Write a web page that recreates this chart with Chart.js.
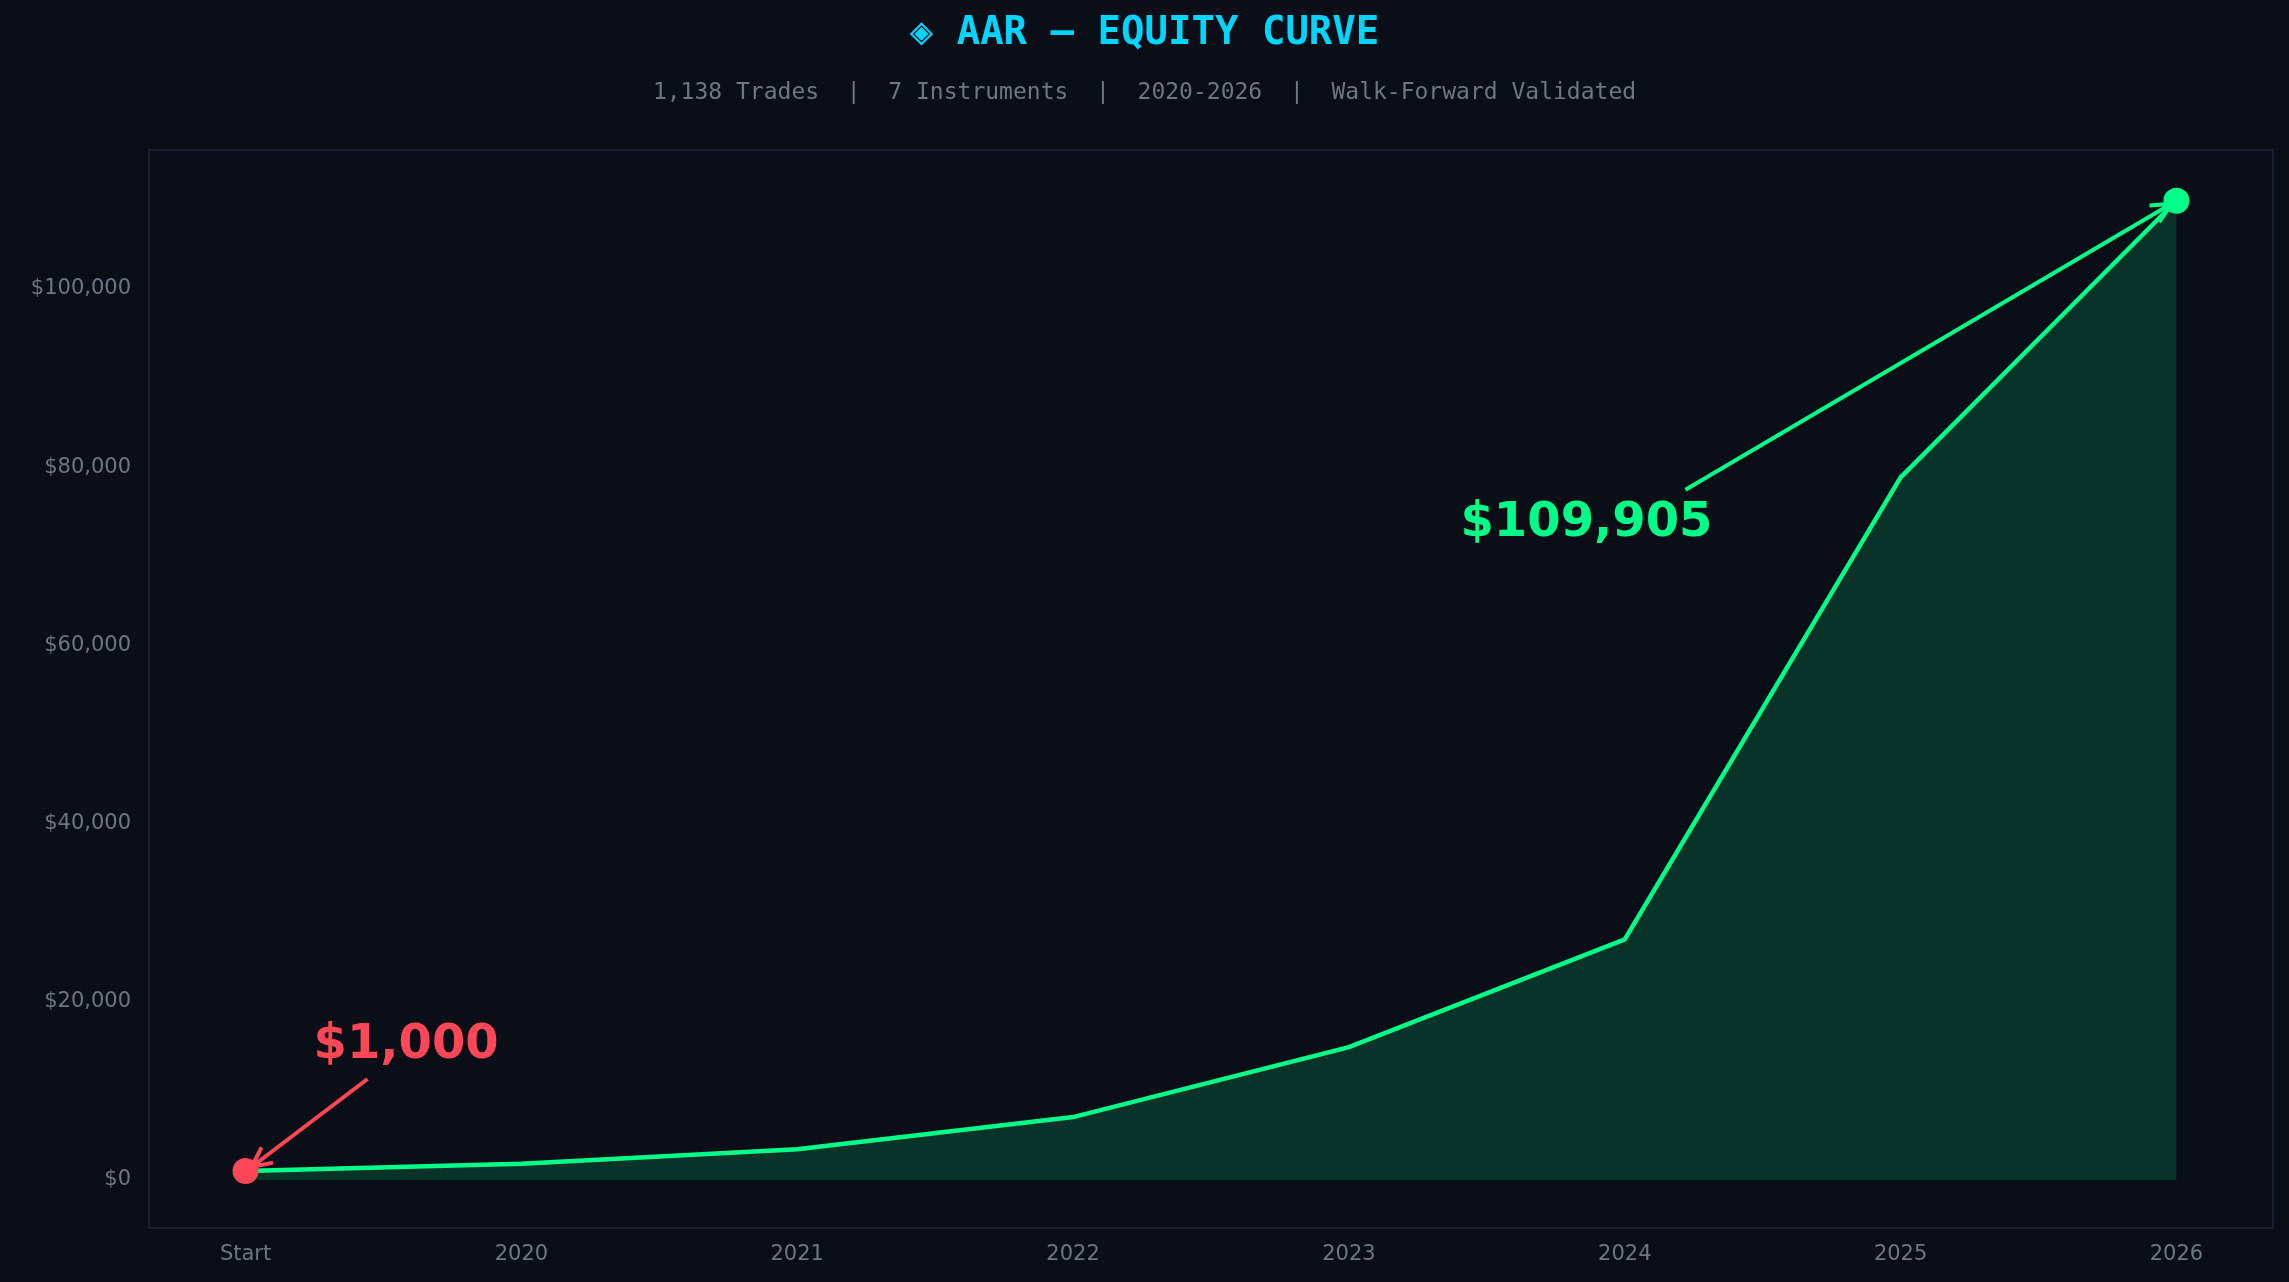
<!DOCTYPE html>
<html>
<head>
<meta charset="utf-8">
<script src="https://cdn.jsdelivr.net/npm/chart.js@4"></script>
<style>
  html, body { margin: 0; padding: 0; background: #0a0e17; }
  #wrap { width: 2289px; height: 1282px; }
</style>
</head>
<body>
<div id="wrap"><canvas id="equityChart"></canvas></div>
<script>
document.addEventListener('DOMContentLoaded', () => {
    "use strict";

    // Chart data
    var periodLabels = ['Start', '2020', '2021', '2022', '2023', '2024', '2025', '2026'];
    var equityValues = [1000, 1800, 3450, 7050, 14900, 27000, 78850, 109905];
    var yTickValues = [0, 20000, 40000, 60000, 80000, 100000];
    var titleText = '\u25C8 AAR \u2014 EQUITY CURVE';
    var subtitleText = '1,138 Trades  |  7 Instruments  |  2020-2026  |  Walk-Forward Validated';
    var startLabel = '$1,000';
    var endLabel = '$109,905';

    var points = equityValues.map(function(v, i) { return { x: i, y: v }; });
    var last = points.length - 1;

    function arrow(ctx, x1, y1, x2, y2, color) {
        ctx.save();
        ctx.strokeStyle = color;
        ctx.lineWidth = 4;
        ctx.beginPath();
        ctx.moveTo(x1, y1);
        ctx.lineTo(x2, y2);
        var a = Math.atan2(y2 - y1, x2 - x1), h = 22;
        ctx.moveTo(x2 - h * Math.cos(a - 0.45), y2 - h * Math.sin(a - 0.45));
        ctx.lineTo(x2, y2);
        ctx.lineTo(x2 - h * Math.cos(a + 0.45), y2 - h * Math.sin(a + 0.45));
        ctx.stroke();
        ctx.restore();
    }

    var decor = {
        id: 'decor',
        beforeDraw: function(chart) {
            var ctx = chart.ctx, a = chart.chartArea;
            ctx.save();
            ctx.fillStyle = '#0a0e17';
            ctx.fillRect(0, 0, chart.width, chart.height);
            ctx.strokeStyle = '#1a2030';
            ctx.lineWidth = 2;
            ctx.strokeRect(a.left, a.top, a.right - a.left, a.bottom - a.top);
            ctx.textAlign = 'center';
            ctx.textBaseline = 'middle';
            ctx.fillStyle = '#00d4ff';
            ctx.font = 'bold 39px "DejaVu Sans Mono"';
            ctx.fillText(titleText, chart.width / 2, 34);
            ctx.fillStyle = '#6e7681';
            ctx.font = '23px "DejaVu Sans Mono"';
            ctx.fillText(subtitleText, chart.width / 2, 93);
            ctx.restore();
        },
        afterDraw: function(chart) {
            var ctx = chart.ctx, xs = chart.scales.x, ys = chart.scales.y;
            var sx = xs.getPixelForValue(0), sy = ys.getPixelForValue(equityValues[0]);
            var ex = xs.getPixelForValue(last), ey = ys.getPixelForValue(equityValues[last]);
            ctx.save();
            ctx.font = 'bold 48px "DejaVu Sans"';
            ctx.textBaseline = 'middle';
            ctx.textAlign = 'left';
            ctx.fillStyle = '#ff4757';
            ctx.fillText(startLabel, sx + 68, sy - 125);
            arrow(ctx, sx + 122, sy - 92, sx + 6, sy - 4, '#ff4757');
            ctx.fillStyle = '#00ff88';
            ctx.fillText(endLabel, ex - 716, ey + 323);
            arrow(ctx, ex - 491, ey + 289, ex - 5, ey + 3, '#00ff88');
            ctx.restore();
        }
    };

    var ctxEquity = document.getElementById('equityChart').getContext('2d');
    new Chart(ctxEquity, {
        type: 'line',
        data: {
            datasets: [{
                data: points,
                borderColor: '#00ff88',
                borderWidth: 4.5,
                backgroundColor: 'rgba(0, 200, 110, 0.2)',
                fill: 'origin',
                tension: 0,
                pointRadius: points.map(function(p, i) { return (i === 0 || i === last) ? 13 : 0; }),
                pointBackgroundColor: points.map(function(p, i) { return i === 0 ? '#ff4757' : '#00ff88'; }),
                pointBorderWidth: 0
            }]
        },
        options: {
            responsive: true,
            maintainAspectRatio: false,
            animation: false,
            layout: { padding: { top: 150, right: 16, left: 0, bottom: 0 } },
            plugins: { legend: { display: false }, tooltip: { enabled: false } },
            scales: {
                x: {
                    type: 'linear',
                    min: -0.35,
                    max: 7.35,
                    afterBuildTicks: function(s) { s.ticks = periodLabels.map(function(l, i) { return { value: i }; }); },
                    afterFit: function(s) { s.height = 54; },
                    grid: { display: false, drawTicks: true, tickLength: 8, tickColor: '#6e7681' },
                    border: { display: false },
                    ticks: {
                        color: '#6e7681',
                        font: { family: 'DejaVu Sans', size: 21 },
                        padding: 6,
                        callback: function(v) { return periodLabels[v]; }
                    }
                },
                y: {
                    min: -5400,
                    max: 115600,
                    afterBuildTicks: function(s) { s.ticks = yTickValues.map(function(v) { return { value: v }; }); },
                    afterFit: function(s) { s.width = 149; },
                    grid: { display: false },
                    border: { display: false },
                    ticks: {
                        color: '#6e7681',
                        font: { family: 'DejaVu Sans', size: 21 },
                        padding: 10,
                        callback: function(v) { return '$' + v.toLocaleString('en-US'); }
                    }
                }
            }
        },
        plugins: [decor]
    });
});
</script>
</body>
</html>
